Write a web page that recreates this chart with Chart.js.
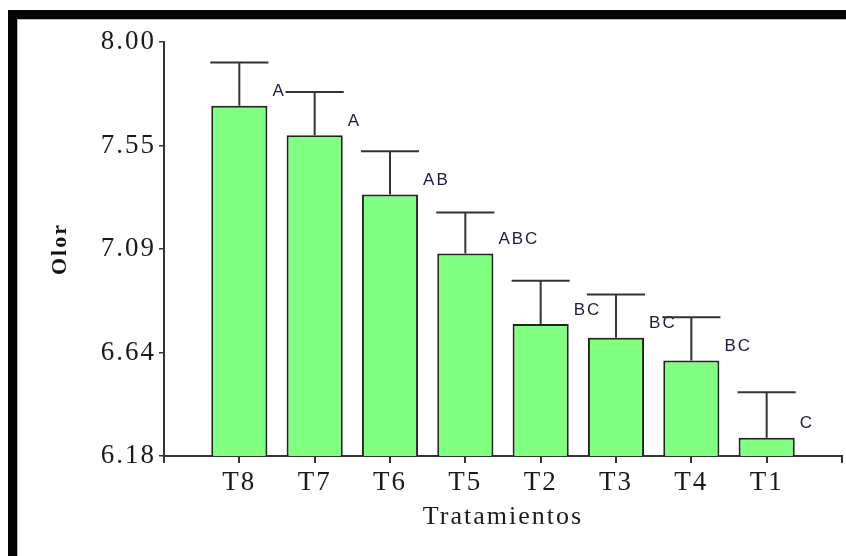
<!DOCTYPE html>
<html>
<head>
<meta charset="utf-8">
<script src="https://cdn.jsdelivr.net/npm/chart.js@4"></script>
<style>
  html, body { margin: 0; padding: 0; background: #fff; overflow: hidden; }
  #wrap { position: relative; width: 846px; height: 556px; }
  #plot { position: absolute; left: 0; top: 0; }
  #frame {
    position: absolute; left: 8px; top: 10px; width: 900px; height: 600px;
    border-top: 9px solid #050505; border-left: 9px solid #050505;
    box-shadow: inset 1px 1px 0 #b8b8b8;
    pointer-events: none;
  }
</style>
</head>
<body>
<div id="wrap">
  <canvas id="plot" width="846" height="556"></canvas>
  <div id="frame"></div>
</div>
<script>
// Treatments in plotted order, mean odour score, error (upper whisker) and Tukey group letters
const treatments = ['T8', 'T7', 'T6', 'T5', 'T2', 'T3', 'T4', 'T1'];
const means      = [7.72, 7.59, 7.33, 7.07, 6.76, 6.70, 6.60, 6.26];
const errors     = [0.19, 0.19, 0.19, 0.18, 0.19, 0.19, 0.19, 0.20];
const groups     = ['A', 'A', 'AB', 'ABC', 'BC', 'BC', 'BC', 'C'];

// Value axis ticks
const yTickValues = [6.18, 6.635, 7.09, 7.545, 8.00];
const yTickLabels = ['6.18', '6.64', '7.09', '7.55', '8.00'];

// One empty slot on each side so the axis runs from the origin to a closing tick
const xLabels = [''].concat(treatments, ['']);
const barData = [null].concat(means, [null]);

const serif = "'Liberation Serif', 'Times New Roman', serif";
const axisColor = '#333';

// Slightly wider lettering for all chart text
const wideText = {
  id: 'wideText',
  beforeDraw(chart) { chart.ctx.letterSpacing = '2px'; }
};

const errorBarsAndLetters = {
  id: 'errorBarsAndLetters',
  afterDatasetsDraw(chart) {
    const ctx = chart.ctx;
    const yScale = chart.scales.y;
    const meta = chart.getDatasetMeta(0);
    ctx.save();
    meta.data.forEach((bar, i) => {
      const k = i - 1;
      if (k < 0 || k >= treatments.length) return;
      const topY = yScale.getPixelForValue(means[k] + errors[k]);
      const half = bar.width / 2 + 1;
      ctx.strokeStyle = axisColor;
      ctx.lineWidth = 2;
      ctx.beginPath();
      ctx.moveTo(bar.x, bar.y);
      ctx.lineTo(bar.x, topY);
      ctx.moveTo(bar.x - half, topY);
      ctx.lineTo(bar.x + half, topY);
      ctx.stroke();

      ctx.fillStyle = '#1c1c3c';
      ctx.font = "17px 'Liberation Sans', Arial, sans-serif";
      ctx.textAlign = 'left';
      ctx.textBaseline = 'middle';
      ctx.fillText(groups[k], bar.x + bar.width / 2 + 5, bar.y - 14);
    });
    ctx.restore();
  }
};

new Chart(document.getElementById('plot'), {
  type: 'bar',
  data: {
    labels: xLabels,
    datasets: [{
      data: barData,
      backgroundColor: '#80ff80',
      borderColor: '#222',
      borderWidth: 2,
      borderSkipped: false,
      barPercentage: 0.745,
      categoryPercentage: 1
    }]
  },
  options: {
    responsive: false,
    animation: false,
    devicePixelRatio: 1,
    layout: { padding: { left: 30, top: 42, right: 4, bottom: 0 } },
    plugins: {
      legend: { display: false },
      tooltip: { enabled: false }
    },
    scales: {
      x: {
        type: 'category',
        offset: false,
        grid: {
          offset: false,
          drawOnChartArea: false,
          drawTicks: true,
          tickLength: 7,
          tickColor: axisColor,
          tickWidth: 2,
          color: axisColor,
          lineWidth: 2
        },
        border: { color: axisColor, width: 2 },
        ticks: {
          padding: 4,
          maxRotation: 0,
          autoSkip: false,
          color: '#1a1a1a',
          font: { family: serif, size: 27 }
        },
        title: {
          display: true,
          text: 'Tratamientos',
          color: '#1a1a1a',
          font: { family: serif, size: 26 },
          padding: { top: 0, bottom: 23 }
        },
        afterFit(scale) { scale.height = 100; }
      },
      y: {
        min: 6.18,
        max: 8.0,
        grid: {
          drawOnChartArea: false,
          tickLength: 5,
          tickColor: axisColor,
          tickWidth: 1.5,
          color: axisColor,
          lineWidth: 1.5
        },
        border: { color: axisColor, width: 2 },
        afterBuildTicks(scale) {
          scale.ticks = yTickValues.map(v => ({ value: v }));
        },
        ticks: {
          padding: 3,
          color: '#1a1a1a',
          font: { family: serif, size: 27 },
          callback: (value, index) => yTickLabels[index]
        },
        title: {
          display: true,
          text: 'Olor',
          color: '#111',
          font: { family: serif, size: 22, weight: 'bold' },
          padding: { top: 17, bottom: 0 }
        },
        afterFit(scale) { scale.width = 134; }
      }
    }
  },
  plugins: [wideText, errorBarsAndLetters]
});
</script>
</body>
</html>
